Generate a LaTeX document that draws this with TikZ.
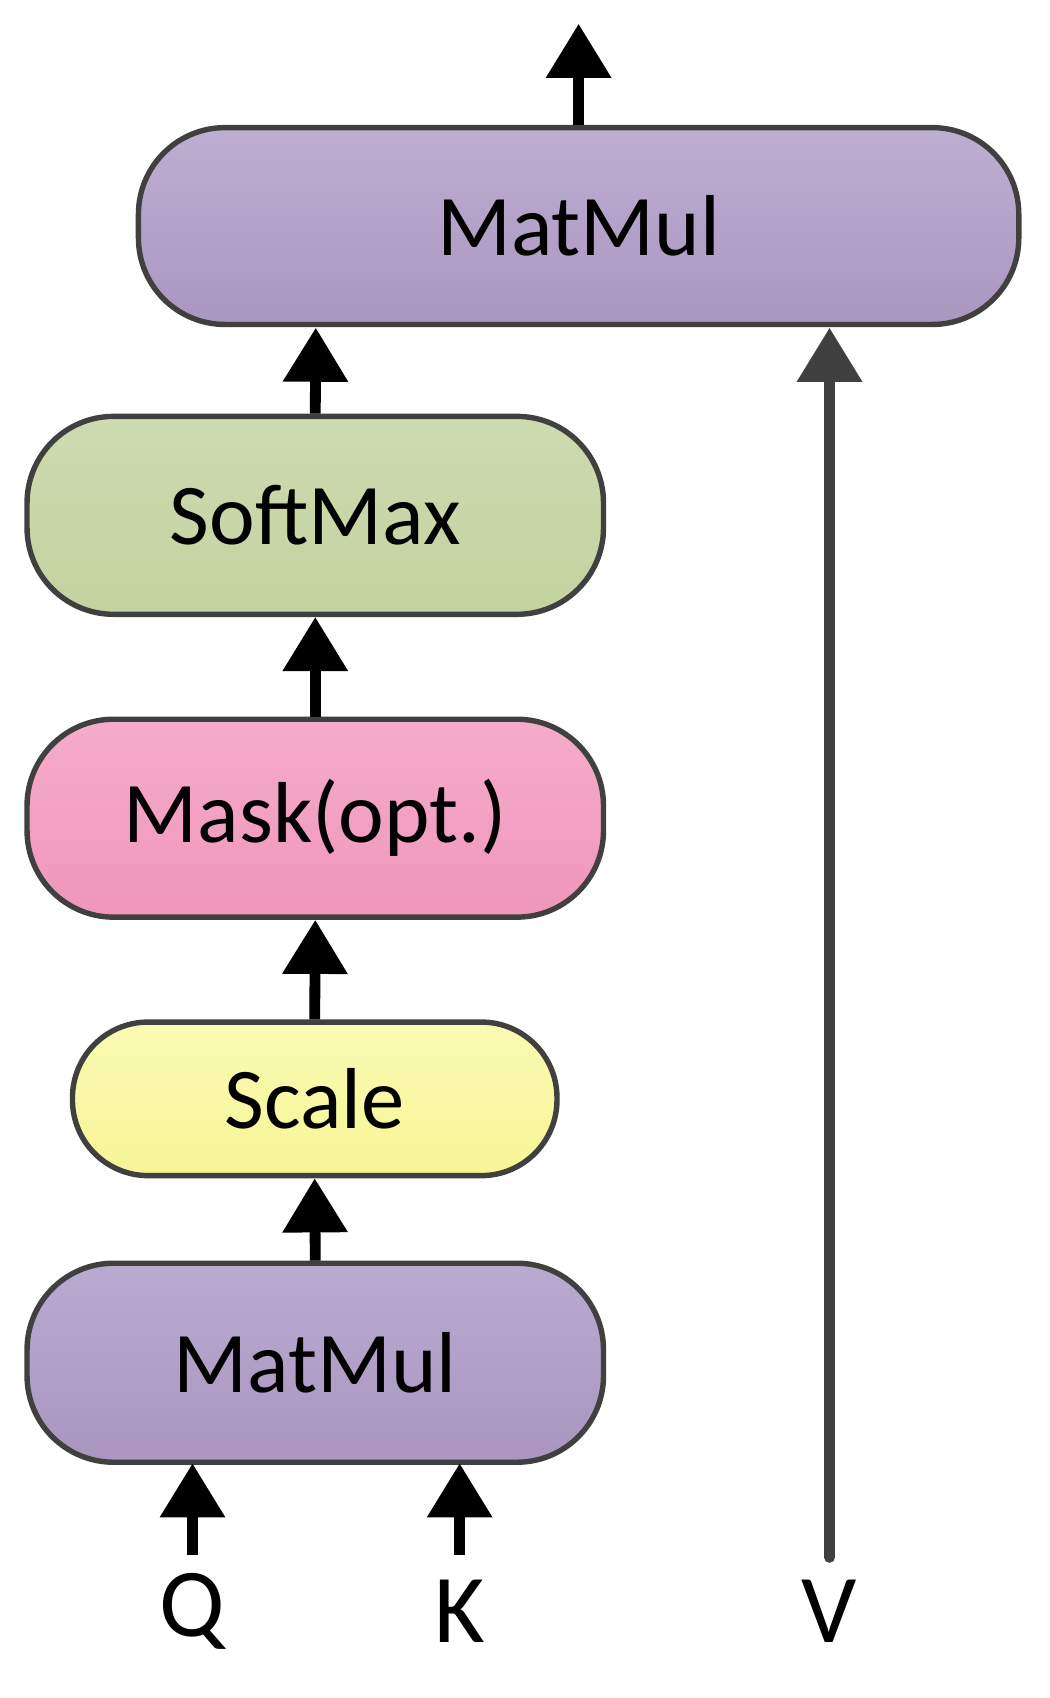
\documentclass[tikz,border=0pt]{standalone}
\usepackage{fontspec}
\setmainfont{Carlito}
\usetikzlibrary{arrows.meta}
\definecolor{bd}{HTML}{404040}
\begin{document}
\begin{tikzpicture}[x=1pt,y=-1pt,
 box/.style={draw=bd,line width=5pt,rounded corners=80pt,inner sep=0pt,font=\fontsize{80}{90}\selectfont},
 purp/.style={top color=purple!0!white!0!{rgb,255:red,189;green,175;blue,209},bottom color={rgb,255:red,170;green,150;blue,192}},
 arr/.style={line width=10pt,-{Triangle[length=50pt,width=58pt]}},
 lab/.style={font=\fontsize{90}{100}\selectfont,inner sep=0pt}]
\useasboundingbox (0,0) rectangle (970,1570);
\node[box,top color={rgb,255:red,189;green,175;blue,209},bottom color={rgb,255:red,170;green,150;blue,192},minimum width=814pt,minimum height=182pt] (mm2) at (535,209) {MatMul};
\node[box,top color={rgb,255:red,206;green,218;blue,176},bottom color={rgb,255:red,196;green,210;blue,160},minimum width=533pt,minimum height=183pt] (sm) at (291.5,476.5) {SoftMax};
\node[box,top color={rgb,255:red,245;green,172;blue,202},bottom color={rgb,255:red,240;green,150;blue,186},minimum width=533pt,minimum height=183pt] (mask) at (291.5,756.5) {Mask(opt.)};
\node[box,top color={rgb,255:red,250;green,250;blue,180},bottom color={rgb,255:red,247;green,245;blue,150},minimum width=448pt,minimum height=142pt,rounded corners=70pt] (sc) at (291,1016) {Scale};
\node[box,top color={rgb,255:red,185;green,170;blue,207},bottom color={rgb,255:red,170;green,150;blue,192},minimum width=533pt,minimum height=184pt] (mm1) at (291.5,1260) {MatMul};
\node[lab] (q) at (178,1490) {Q};
\node[lab] (k) at (425,1490) {K};
\node[lab] (v) at (767,1490) {V};
\coordinate (out) at (535,22);
\coordinate (qs) at (178,1438);
\coordinate (ks) at (425,1438);
\coordinate (vs) at (767,1440);
\draw[arr] (mm2.north) -- (out);
\draw[arr] (sm.north) -- (292,303);
\draw[arr] (mask.north) -- (sm.south);
\draw[arr] (sc.north) -- (mask.south);
\draw[arr] (mm1.north) -- (sc.south);
\draw[arr] (qs) -- (178,1353);
\draw[arr] (ks) -- (425,1353);
\draw[arr,bd,line cap=round] (vs) -- (767,303);
\end{tikzpicture}
\end{document}
